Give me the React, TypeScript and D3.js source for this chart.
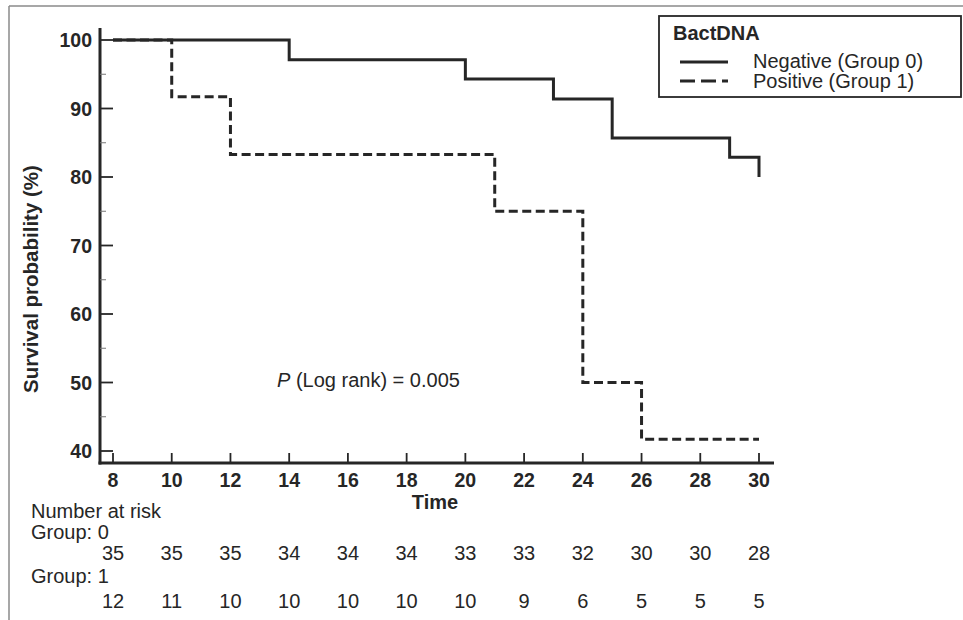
import React, { useEffect, useRef } from 'react';
import * as d3 from 'd3';

// Kaplan-Meier steps
const group0Times = [8, 14, 20, 23, 25, 29, 30];
const group0Surv = [100, 97.1, 94.3, 91.4, 85.7, 82.9, 80.0];
const group1Times = [8, 10, 12, 21, 24, 26, 30];
const group1Surv = [100, 91.7, 83.3, 75.0, 50.0, 41.7, 41.7];

const xTicks = [8, 10, 12, 14, 16, 18, 20, 22, 24, 26, 28, 30];
const yTicks = [40, 50, 60, 70, 80, 90, 100];
const yMinorTicks = [45, 55, 65, 75, 85, 95];

const riskGroup0 = [35, 35, 35, 34, 34, 34, 33, 33, 32, 30, 30, 28];
const riskGroup1 = [12, 11, 10, 10, 10, 10, 10, 9, 6, 5, 5, 5];

const legendLabels = ['Negative (Group 0)', 'Positive (Group 1)'];

const W = 963;
const H = 620;
const INK = '#262626';
const FONT = '"Liberation Sans", Arial, sans-serif';

const App = () => {
  const svgRef = useRef<SVGSVGElement | null>(null);

  useEffect(() => {
    document.body.style.margin = '0';
    if (!svgRef.current) return;
    const svg = d3.select(svgRef.current);
    svg.selectAll('*').remove();

    const x = d3.scaleLinear().domain([8, 30]).range([113, 759]);
    const y = d3.scaleLinear().domain([40, 100]).range([451, 40]);

    const axisX = 100;
    const axisY = 463;

    // frame lines (left and top edge of the figure panel)
    svg.append('line')
      .attr('x1', 9).attr('x2', 9).attr('y1', 6).attr('y2', H)
      .attr('stroke', '#8a8a8a').attr('stroke-width', 1.5);
    svg.append('line')
      .attr('x1', 9).attr('x2', W).attr('y1', 6).attr('y2', 6)
      .attr('stroke', '#8a8a8a').attr('stroke-width', 1.5);

    // Y axis
    const yAxis = svg.append('g').attr('transform', `translate(${axisX},0)`);
    yAxis.append('line')
      .attr('y1', 28).attr('y2', axisY + 1.5)
      .attr('stroke', INK).attr('stroke-width', 3);
    yAxis.selectAll('.major')
      .data(yTicks)
      .enter()
      .append('line')
      .attr('x1', 0).attr('x2', 13)
      .attr('y1', d => y(d)).attr('y2', d => y(d))
      .attr('stroke', INK).attr('stroke-width', 1.8);
    yAxis.selectAll('.minor')
      .data(yMinorTicks)
      .enter()
      .append('line')
      .attr('x1', 0).attr('x2', 6)
      .attr('y1', d => y(d)).attr('y2', d => y(d))
      .attr('stroke', '#777').attr('stroke-width', 1);
    yAxis.selectAll('text')
      .data(yTicks)
      .enter()
      .append('text')
      .attr('x', -8)
      .attr('y', d => y(d) + 7)
      .attr('text-anchor', 'end')
      .attr('font-family', FONT)
      .attr('font-weight', 'bold')
      .attr('font-size', 19.5)
      .attr('fill', INK)
      .text(d => d);

    // X axis
    const xAxis = svg.append('g').attr('transform', `translate(0,${axisY})`);
    xAxis.append('line')
      .attr('x1', axisX - 1.5).attr('x2', 774)
      .attr('stroke', INK).attr('stroke-width', 3);
    xAxis.selectAll('.tick')
      .data(xTicks)
      .enter()
      .append('line')
      .attr('x1', d => x(d)).attr('x2', d => x(d))
      .attr('y1', 0).attr('y2', -10)
      .attr('stroke', INK).attr('stroke-width', 1.8);
    xAxis.selectAll('text')
      .data(xTicks)
      .enter()
      .append('text')
      .attr('x', d => x(d))
      .attr('y', 24)
      .attr('text-anchor', 'middle')
      .attr('font-family', FONT)
      .attr('font-weight', 'bold')
      .attr('font-size', 19.5)
      .attr('fill', INK)
      .text(d => d);

    svg.append('text')
      .attr('x', 435).attr('y', 509)
      .attr('text-anchor', 'middle')
      .attr('font-family', FONT).attr('font-weight', 'bold').attr('font-size', 20)
      .attr('fill', INK)
      .text('Time');

    svg.append('text')
      .attr('transform', 'translate(38,279) rotate(-90)')
      .attr('text-anchor', 'middle')
      .attr('font-family', FONT).attr('font-weight', 'bold').attr('font-size', 20.5)
      .attr('fill', INK)
      .text('Survival probability (%)');

    // survival curves
    const step = d3.line<[number, number]>()
      .x(d => x(d[0]))
      .y(d => y(d[1]))
      .curve(d3.curveStepAfter);

    const g0 = group0Times.map((t, i) => [t, group0Surv[i]] as [number, number]);
    const g1 = group1Times.map((t, i) => [t, group1Surv[i]] as [number, number]);

    svg.append('path')
      .datum(g1)
      .attr('fill', 'none')
      .attr('stroke', INK)
      .attr('stroke-width', 3)
      .attr('stroke-dasharray', '9,4.5')
      .attr('d', step);

    svg.append('path')
      .datum(g0)
      .attr('fill', 'none')
      .attr('stroke', INK)
      .attr('stroke-width', 3)
      .attr('d', step);

    // p-value
    const pText = svg.append('text')
      .attr('x', 277).attr('y', 387)
      .attr('font-family', FONT).attr('font-size', 20)
      .attr('fill', INK);
    pText.append('tspan').attr('font-style', 'italic').text('P');
    pText.append('tspan').text(' (Log rank) = 0.005');

    // legend
    const legend = svg.append('g');
    legend.append('rect')
      .attr('x', 659).attr('y', 16)
      .attr('width', 302).attr('height', 81)
      .attr('fill', '#fff')
      .attr('stroke', INK).attr('stroke-width', 1.8);
    legend.append('text')
      .attr('x', 673).attr('y', 40)
      .attr('font-family', FONT).attr('font-weight', 'bold').attr('font-size', 20)
      .attr('fill', INK)
      .text('BactDNA');
    legend.selectAll('.item')
      .data(legendLabels)
      .enter()
      .append('line')
      .attr('x1', 680).attr('x2', 728)
      .attr('y1', (d, i) => 62 + i * 19).attr('y2', (d, i) => 62 + i * 19)
      .attr('stroke', INK).attr('stroke-width', 3)
      .attr('stroke-dasharray', (d, i) => (i === 1 ? '15,6' : null));
    legend.selectAll('.label')
      .data(legendLabels)
      .enter()
      .append('text')
      .attr('x', 753)
      .attr('y', (d, i) => 68 + i * 20)
      .attr('font-family', FONT).attr('font-size', 20)
      .attr('fill', INK)
      .text(d => d);

    // number at risk table
    const risk = svg.append('g')
      .attr('font-family', FONT).attr('font-size', 20).attr('fill', INK);
    risk.append('text').attr('x', 31).attr('y', 518).text('Number at risk');
    risk.append('text').attr('x', 31).attr('y', 539).text('Group: 0');
    risk.append('text').attr('x', 31).attr('y', 583).text('Group: 1');
    risk.selectAll('.r0')
      .data(riskGroup0)
      .enter()
      .append('text')
      .attr('x', (d, i) => x(xTicks[i]))
      .attr('y', 560)
      .attr('text-anchor', 'middle')
      .text(d => d);
    risk.selectAll('.r1')
      .data(riskGroup1)
      .enter()
      .append('text')
      .attr('x', (d, i) => x(xTicks[i]))
      .attr('y', 608)
      .attr('text-anchor', 'middle')
      .text(d => d);
  }, []);

  return (
    <svg ref={svgRef} width={W} height={H} style={{ display: 'block', background: '#fff' }} />
  );
};

export default App;
